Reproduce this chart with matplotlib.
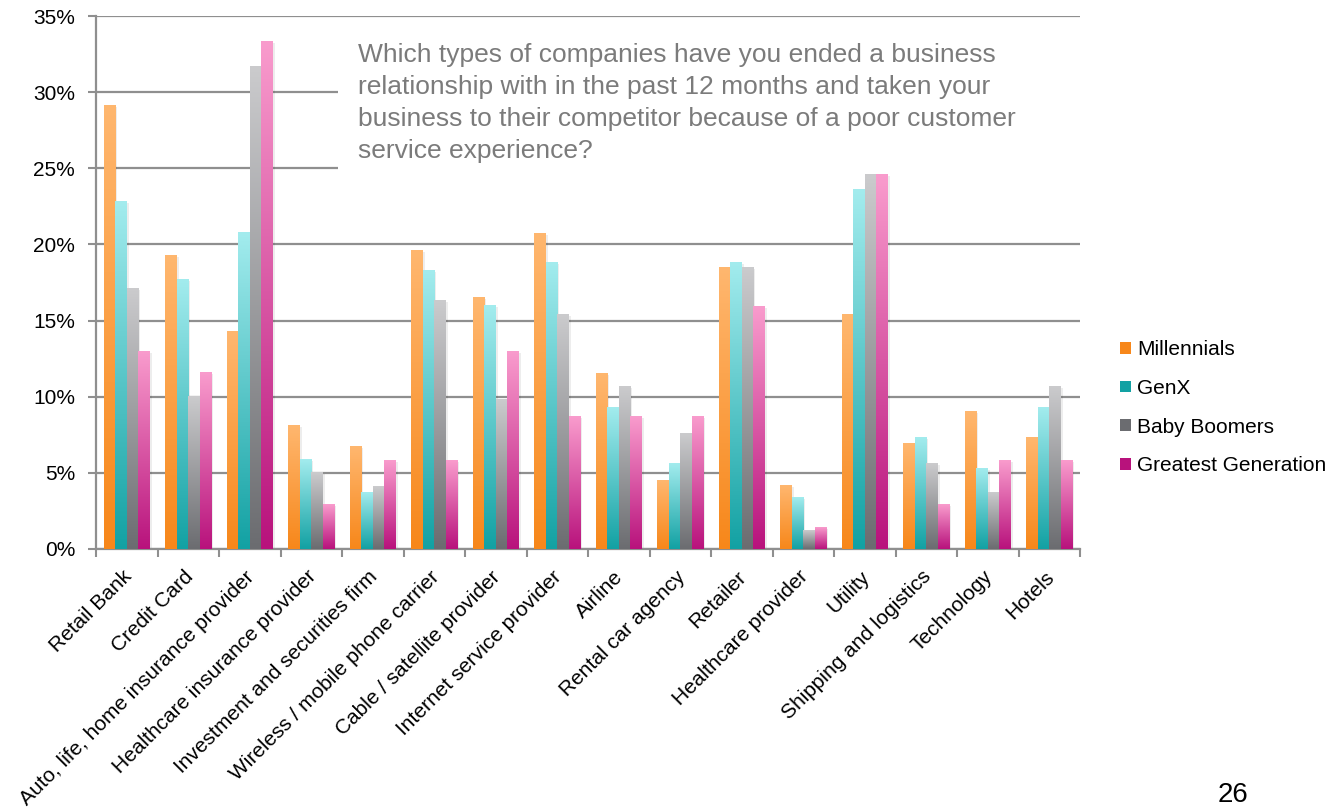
import matplotlib.pyplot as plt
import numpy as np
from matplotlib.colors import LinearSegmentedColormap
from matplotlib.patches import Rectangle, Patch
from matplotlib.transforms import ScaledTranslation

plt.rcParams['font.family'] = ['Liberation Sans', 'DejaVu Sans']

categories = ['Retail Bank', 'Credit Card', 'Auto, life, home insurance provider',
              'Healthcare insurance provider', 'Investment and securities firm',
              'Wireless / mobile phone carrier', 'Cable / satellite provider',
              'Internet service provider', 'Airline', 'Rental car agency', 'Retailer',
              'Healthcare provider', 'Utility', 'Shipping and logistics', 'Technology', 'Hotels']

millennials = [29.1, 19.3, 14.3, 8.1, 6.7, 19.6, 16.5, 20.7, 11.5, 4.5, 18.5, 4.2, 15.4, 6.9, 9.0, 7.3]
genx = [22.8, 17.7, 20.8, 5.9, 3.7, 18.3, 16.0, 18.8, 9.3, 5.6, 18.8, 3.4, 23.6, 7.3, 5.3, 9.3]
boomers = [17.1, 10.0, 31.7, 5.0, 4.1, 16.3, 9.8, 15.4, 10.7, 7.6, 18.5, 1.2, 24.6, 5.6, 3.7, 10.7]
greatest = [13.0, 11.6, 33.3, 2.9, 5.8, 5.8, 13.0, 8.7, 8.7, 8.7, 15.9, 1.4, 24.6, 2.9, 5.8, 5.8]

series = [('Millennials', millennials, '#ffb76f', '#f7871a'),
          ('GenX', genx, '#a3ecee', '#12a1a3'),
          ('Baby Boomers', boomers, '#cbcbcd', '#6b6c70'),
          ('Greatest Generation', greatest, '#f99ccd', '#b8127c')]

question = ('Which types of companies have you ended a business\n'
            'relationship with in the past 12 months and taken your\n'
            'business to their competitor because of a poor customer\n'
            'service experience?')

fig = plt.figure(figsize=(13.34, 8.09), dpi=100)
ax = fig.add_axes([0.072, 0.3214, 0.7376, 0.6588])

n = len(categories)
x = np.arange(n)
bw = 0.187
grad = np.linspace(1, 0, 256).reshape(-1, 1)

for k, (name, vals, top, bottom) in enumerate(series):
    cmap = LinearSegmentedColormap.from_list(name, [bottom, top])
    for i, v in enumerate(vals):
        x0 = x[i] - 2 * bw + k * bw
        # soft shadow on the right side of each bar
        ax.add_patch(Rectangle((x0 + 0.035, 0), bw, v - 0.1, color='black',
                               alpha=0.07, lw=0, zorder=2))
        ax.imshow(grad, cmap=cmap, extent=[x0, x0 + bw, 0, v], aspect='auto',
                  origin='upper', zorder=3, interpolation='bicubic')

ax.set_xlim(-0.5, n - 0.5)
ax.set_ylim(0, 35)

ax.set_yticks(np.arange(0, 36, 5))
ax.set_yticklabels([f'{t}%' for t in range(0, 36, 5)])
ax.yaxis.grid(True, color='#8f8f8f', lw=1.6)
ax.set_axisbelow(True)

ax.set_xticks(x)
ax.set_xticklabels(categories, rotation=45, ha='right', rotation_mode='anchor')
ax.set_xticks(np.arange(-0.5, n), minor=True)
ax.tick_params(axis='x', which='major', length=0, pad=13, labelsize=15)
ax.tick_params(axis='x', which='minor', length=6, width=1.5, color='#8f8f8f')
ax.tick_params(axis='y', length=6, width=1.5, color='#8f8f8f', labelsize=15, pad=9)

# nudge the slanted category names a little to the left
shift = ScaledTranslation(-5 / 100, 0, fig.dpi_scale_trans)
for lbl in ax.get_xticklabels():
    lbl.set_transform(lbl.get_transform() + shift)

for s in ['top', 'right']:
    ax.spines[s].set_visible(False)
for s in ['left', 'bottom']:
    ax.spines[s].set_color('#8f8f8f')
    ax.spines[s].set_linewidth(1.6)

# white panel behind the question text
ax.add_patch(Rectangle((0.246, 0.71), 0.76, 0.25, transform=ax.transAxes,
                       facecolor='white', edgecolor='none', zorder=1.5, clip_on=False))
ax.text(0.266, 0.95, question, transform=ax.transAxes, ha='left', va='top',
        fontsize=19, color='#7b7b7b', linespacing=1.42, zorder=4)

handles = [Patch(facecolor=s[3], label=s[0]) for s in series]
ax.legend(handles=handles, loc='center left', bbox_to_anchor=(1.022, 0.265),
          frameon=False, fontsize=15, handlelength=0.5, handleheight=0.5,
          handletextpad=0.3, labelspacing=0.95)

fig.text(0.9245, 0.033, '26', ha='center', va='top', fontsize=20, color='black')

fig.savefig('out.png', dpi=100)
